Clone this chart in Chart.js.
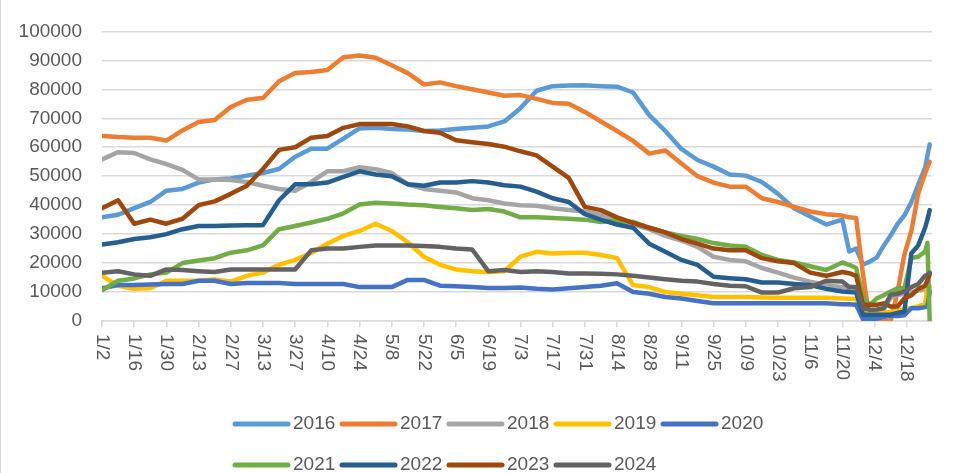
<!DOCTYPE html>
<html>
<head>
<meta charset="utf-8">
<script src="https://cdn.jsdelivr.net/npm/chart.js@4.4.1/dist/chart.umd.min.js"></script>
<style>
  html, body { margin: 0; padding: 0; background: #fff; }
  #wrap { width: 980px; height: 473px; position: relative; }
</style>
</head>
<body>
<div id="wrap"><canvas id="chart"></canvas></div>
<script>
// day offset from 1/2 for every sample
const days = [0,7,14,21,28,35,42,49,56,63,70,77,84,91,98,105,112,119,126,133,140,147,154,161,168,175,182,189,196,203,210,217,224,231,238,245,252,259,266,273,280,287,294,301,308,315,322,325,328,331,334,337,340,343,346,349,352,355,358,359,360];

const tickLabels = ['1/2','1/16','1/30','2/13','2/27','3/13','3/27','4/10','4/24','5/8','5/22','6/5','6/19','7/3','7/17','7/31','8/14','8/28','9/11','9/25','10/9','10/23','11/6','11/20','12/4','12/18'];

const years = ['2016','2017','2018','2019','2020','2021','2022','2023','2024'];
const colors = ['#5B9BD5','#ED7D31','#A5A5A5','#FFC000','#4472C4','#70AD47','#255E91','#9E480E','#636363'];

const s2016 = [35800,36700,39000,41100,45000,45600,47800,48900,49200,50200,51100,52500,56700,59500,59500,63000,66500,66700,66300,66100,65600,65800,66300,66700,67200,68900,73500,79500,81100,81300,81400,81100,80900,78900,71100,65600,59400,55600,53300,50600,50200,48000,43900,38900,36100,33300,35000,24000,25000,19500,20500,22000,26000,29500,33500,36500,41000,47000,53000,57000,61000];
const s2017 = [63900,63500,63300,63300,62300,65800,68700,69400,73900,76400,77000,82800,85600,86000,86700,91100,91700,90900,88300,85600,81700,82400,81100,80000,78900,77800,78000,76700,75300,75000,72200,68900,65600,62200,57800,58900,54400,50000,47800,46400,46400,42400,41100,39400,37800,36900,36400,35800,35600,16000,0,0,0,0,10000,23000,31000,44000,51000,53000,55000];
const s2018 = [55800,58300,58000,55800,54200,52200,48900,48900,48700,48000,46700,45600,45000,48000,51700,51700,53100,52400,51100,47200,45600,45000,44400,42400,41700,40600,40000,39800,38900,38300,37800,36700,34400,33300,31700,29400,27800,25600,22200,21100,20600,18300,16700,15000,13600,12400,11700,11400,11100,3500,3300,3500,4000,8000,9000,9500,10000,10500,11000,11000,11000];
const s2019 = [15600,12200,11100,11300,13900,13900,13900,14400,13600,15600,16700,19400,21100,23500,26700,29400,31100,33600,31100,27200,22200,19400,17800,17200,16900,17200,22200,23900,23300,23600,23600,22800,21700,12400,11700,10000,9400,8900,8300,8300,8300,8100,8000,8000,8000,8000,7800,7700,7600,3000,2800,2800,3000,3000,3500,4000,4500,5000,6000,12000,12000];
const s2020 = [11300,12400,12400,12600,12800,12800,13900,13900,12800,13100,13100,13100,12800,12800,12800,12800,11700,11700,11700,14200,14200,12200,12000,11700,11400,11400,11600,11100,10900,11300,11700,12200,13000,10000,9400,8300,7800,6900,6100,6100,6100,6100,6100,6100,6100,6100,5800,5800,5600,600,600,800,1500,1700,1700,2000,4400,4400,4800,5000,10000];
const s2021 = [10600,13900,14700,16100,16700,20000,20900,21700,23600,24400,26100,31700,32800,34000,35300,37200,40200,40800,40600,40200,40000,39400,38900,38300,38700,37800,35800,35800,35600,35300,35000,34200,34600,34200,32200,30600,29400,28300,26900,26100,25600,22800,21100,20200,18900,17600,20200,19400,18300,8000,5600,7800,8900,10200,11300,11300,21700,22200,24000,27000,0];
const s2022 = [26400,27200,28300,28900,30000,31700,32800,32800,33000,33100,33100,41700,47200,47200,47800,49800,51700,50600,50000,47200,46700,47800,47800,48300,47800,46900,46400,44700,42400,41100,36900,35000,33300,32200,26700,23900,21100,19400,15300,14800,14400,13300,13300,12800,12400,11100,10200,10000,9800,2200,2200,2200,2200,2200,2800,3300,23300,26100,32200,35000,38300];
const s2023 = [38900,41700,33600,35000,33600,35300,40000,41300,43900,46700,52500,59100,60000,63300,63900,66700,68000,68000,68000,67200,65600,65000,62400,61700,61100,60200,58600,57200,53300,49400,39400,38300,35800,33900,32200,30600,28300,26700,25000,24400,24400,21700,20600,20000,16700,15600,16900,16500,15600,5600,5600,5600,6100,5000,5000,7800,8900,11100,12200,14000,16100];
const s2024 = [16700,17200,16100,15600,17800,17600,17200,16900,17800,17800,17800,17800,17800,24400,25000,25000,25600,26100,26100,26100,25900,25600,25000,24700,17200,17600,16900,17200,16900,16400,16400,16300,16100,15600,15000,14400,13900,13600,12800,12200,12000,9800,9800,11300,11700,13900,13600,11700,11700,4400,3900,4000,4400,9100,9400,10200,11700,12800,15600,16000,16700];

const series = [s2016, s2017, s2018, s2019, s2020, s2021, s2022, s2023, s2024];

const TEXT = '#595959';
const GRID = '#d9d9d9';
const FONT = '"Liberation Sans", Arial, sans-serif';

// Excel style extras: rotated date labels, two-row legend, left border
const excelDecor = {
    id: 'excelDecor',
    afterDraw(chart) {
        const ctx = chart.ctx;
        const xs = chart.scales.x;
        ctx.save();

        ctx.strokeStyle = GRID;
        ctx.lineWidth = 1;
        ctx.beginPath();
        ctx.moveTo(0.5, 0);
        ctx.lineTo(0.5, chart.height);
        ctx.stroke();

        ctx.fillStyle = TEXT;
        ctx.font = '19px ' + FONT;
        ctx.textAlign = 'left';
        ctx.textBaseline = 'middle';
        tickLabels.forEach((lab, i) => {
            const px = xs.getPixelForValue(i * 14);
            ctx.save();
            ctx.translate(px, xs.top + 13);
            ctx.rotate(Math.PI / 2);
            ctx.fillText(lab, 0, 0);
            ctx.restore();
        });

        const rowY = [424, 465];
        years.forEach((yr, i) => {
            const row = i < 5 ? 0 : 1;
            const col = row === 0 ? i : i - 5;
            const x0 = 235 + col * 107;
            const y = rowY[row];
            ctx.strokeStyle = colors[i];
            ctx.lineWidth = 5;
            ctx.lineCap = 'round';
            ctx.beginPath();
            ctx.moveTo(x0, y);
            ctx.lineTo(x0 + 53, y);
            ctx.stroke();
            ctx.fillStyle = TEXT;
            ctx.fillText(yr, x0 + 58, y);
        });
        ctx.restore();
    }
};

const ctx = document.getElementById('chart');
new Chart(ctx, {
    type: 'line',
    data: {
        datasets: years.map((yr, i) => ({
            label: yr,
            data: days.map((d, j) => ({ x: d, y: series[i][j] })),
            borderColor: colors[i],
            backgroundColor: colors[i],
            borderWidth: 4.5,
            borderJoinStyle: 'round',
            borderCapStyle: 'round',
            pointRadius: 0,
            tension: 0,
            order: years.length - i
        }))
    },
    options: {
        responsive: true,
        maintainAspectRatio: false,
        animation: false,
        layout: {
            padding: { left: 0, right: 48, top: 20, bottom: 0 }
        },
        scales: {
            x: {
                type: 'linear',
                min: 0,
                max: 361,
                afterBuildTicks: (scale) => {
                    scale.ticks = tickLabels.map((_, i) => ({ value: i * 14 }));
                },
                afterFit: (scale) => { scale.height = 152; },
                ticks: { display: false },
                grid: {
                    drawOnChartArea: false,
                    drawTicks: true,
                    tickLength: 6,
                    color: GRID,
                    lineWidth: 1.5
                },
                border: { display: true, color: GRID, width: 1.5 }
            },
            y: {
                min: 0,
                max: 100000,
                afterFit: (scale) => { scale.width = 102; },
                ticks: {
                    stepSize: 10000,
                    color: TEXT,
                    padding: 20,
                    font: { family: FONT, size: 19 },
                    callback: (value) => String(value)
                },
                grid: {
                    color: GRID,
                    lineWidth: 1.5,
                    drawTicks: false
                },
                border: { display: false }
            }
        },
        plugins: {
            legend: { display: false },
            tooltip: { enabled: false }
        }
    },
    plugins: [excelDecor]
});
</script>
</body>
</html>
